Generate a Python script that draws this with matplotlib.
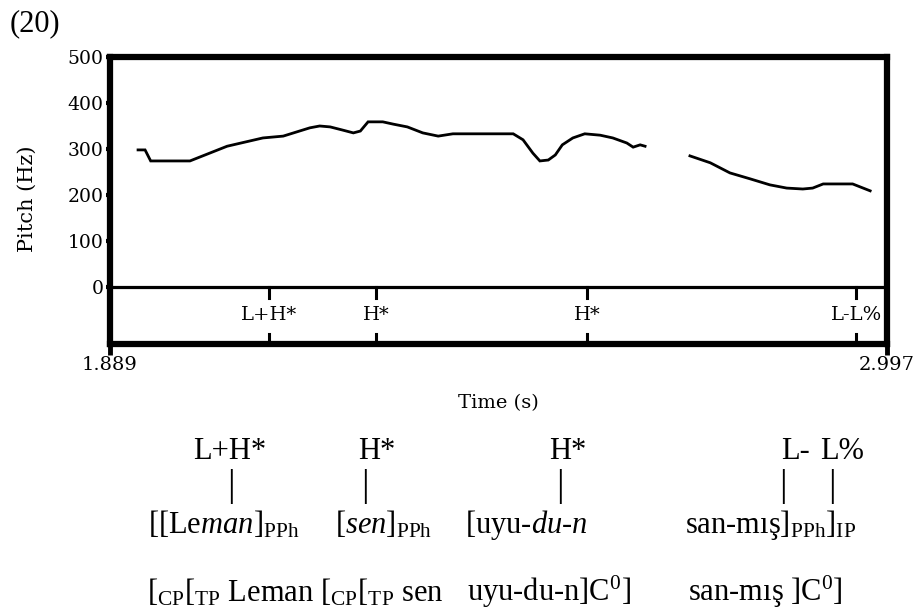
import matplotlib.pyplot as plt
import numpy as np

plt.rcParams['mathtext.fontset'] = 'custom'
plt.rcParams['mathtext.rm'] = 'Liberation Serif'
plt.rcParams['mathtext.it'] = 'Liberation Serif:italic'

# pitch track (two voiced stretches)
t1 = [1.929, 1.939, 1.947, 2.003, 2.056, 2.107, 2.136, 2.174, 2.188, 2.203, 2.221,
      2.236, 2.246, 2.257, 2.278, 2.293, 2.313, 2.335, 2.357, 2.378, 2.464, 2.478,
      2.492, 2.502, 2.514, 2.524, 2.534, 2.549, 2.566, 2.588, 2.606, 2.626, 2.635,
      2.645, 2.652]
f1 = [298, 298, 274, 274, 306, 324, 328, 346, 350, 348, 341,
      335, 339, 359, 359, 354, 348, 335, 328, 333, 333, 320,
      291, 274, 276, 287, 309, 324, 333, 330, 324, 313, 304,
      309, 306]
t2 = [2.716, 2.745, 2.773, 2.802, 2.830, 2.854, 2.877, 2.891, 2.906, 2.948, 2.963, 2.973]
f2 = [285, 270, 248, 235, 222, 215, 213, 215, 224, 224, 215, 209]

t_start, t_end = 1.889, 2.997
yticks = [0, 100, 200, 300, 400, 500]

# ToBI tier
tone_times = [2.116, 2.268, 2.569, 2.953]
tone_labels = ['L+H*', 'H*', 'H*', 'L-L%']

praat = 'DejaVu Serif'
W, H = 917, 609
fig = plt.figure(figsize=(W / 100, H / 100), dpi=100)
ax = fig.add_axes([110 / W, 1 - 344 / H, (887 - 110) / W, (344 - 57) / H])

ax.plot(t1, f1, color='black', lw=2.0, solid_joinstyle='miter')
ax.plot(t2, f2, color='black', lw=2.0, solid_joinstyle='miter')

ax.set_xlim(t_start, t_end)
ax.set_ylim(-124, 500)
ax.axhline(0, color='black', lw=2.3)

for tt, lab in zip(tone_times, tone_labels):
    ax.plot([tt, tt], [0, -24], color='black', lw=2.2)
    ax.plot([tt, tt], [-124, -102], color='black', lw=2.2)
    ax.text(tt, -62, lab, ha='center', va='center', family=praat, fontsize=14)

for s in ax.spines.values():
    s.set_linewidth(4.5)

ax.set_yticks(yticks)
ax.set_yticklabels([str(v) for v in yticks], family=praat, fontsize=13.5)
ax.tick_params(axis='y', direction='out', length=3, width=3, pad=1.5)
ax.set_xticks([t_start, t_end])
ax.set_xticklabels(['1.889', '2.997'], family=praat, fontsize=14)
ax.tick_params(axis='x', direction='out', length=8, width=3.5, pad=1)
ax.set_xlabel('Time (s)', family=praat, fontsize=14, labelpad=14)
ax.text(-0.107, 191, 'Pitch (Hz)', rotation=90, ha='center', va='center',
        transform=ax.get_yaxis_transform(), family=praat, fontsize=15)

fig.text(10 / W, 1 - 24 / H, '(20)', ha='left', va='center', family='Liberation Serif', fontsize=22)

# annotation below the graph
fs = 22
def px(x, y):
    return x / W, 1 - y / H

for x, s in [(230, 'L+H*'), (377, 'H*'), (568, 'H*'), (795, 'L-'), (842, 'L%')]:
    fig.text(*px(x, 459), s, ha='center', va='baseline', family='Liberation Serif', fontsize=fs)
for x in [231, 365, 560, 783, 832]:
    fig.text(*px(x, 486), '|', ha='center', va='center', family='Liberation Serif', fontsize=27)

row3 = [(148, r'[[Le$\mathit{man}$]$_{\mathrm{PPh}}$'),
        (335, r'[$\mathit{sen}$]$_{\mathrm{PPh}}$'),
        (465, r'[uyu-$\mathit{du}$-$\mathit{n}$'),
        (685, r'san-mış]$_{\mathrm{PPh}}$]$_{\mathrm{IP}}$')]
for x, s in row3:
    fig.text(*px(x, 533), s, ha='left', va='baseline', family='Liberation Serif', fontsize=fs)

row4 = [(147, r'[$_{\mathrm{CP}}$[$_{\mathrm{TP}}$ Leman [$_{\mathrm{CP}}$[$_{\mathrm{TP}}$ sen'),
        (467, r'uyu-du-n]C$^{0}$]'),
        (688, r'san-mış ]C$^{0}$]')]
for x, s in row4:
    fig.text(*px(x, 601), s, ha='left', va='baseline', family='Liberation Serif', fontsize=fs)

fig.savefig('out.png', dpi=100)
